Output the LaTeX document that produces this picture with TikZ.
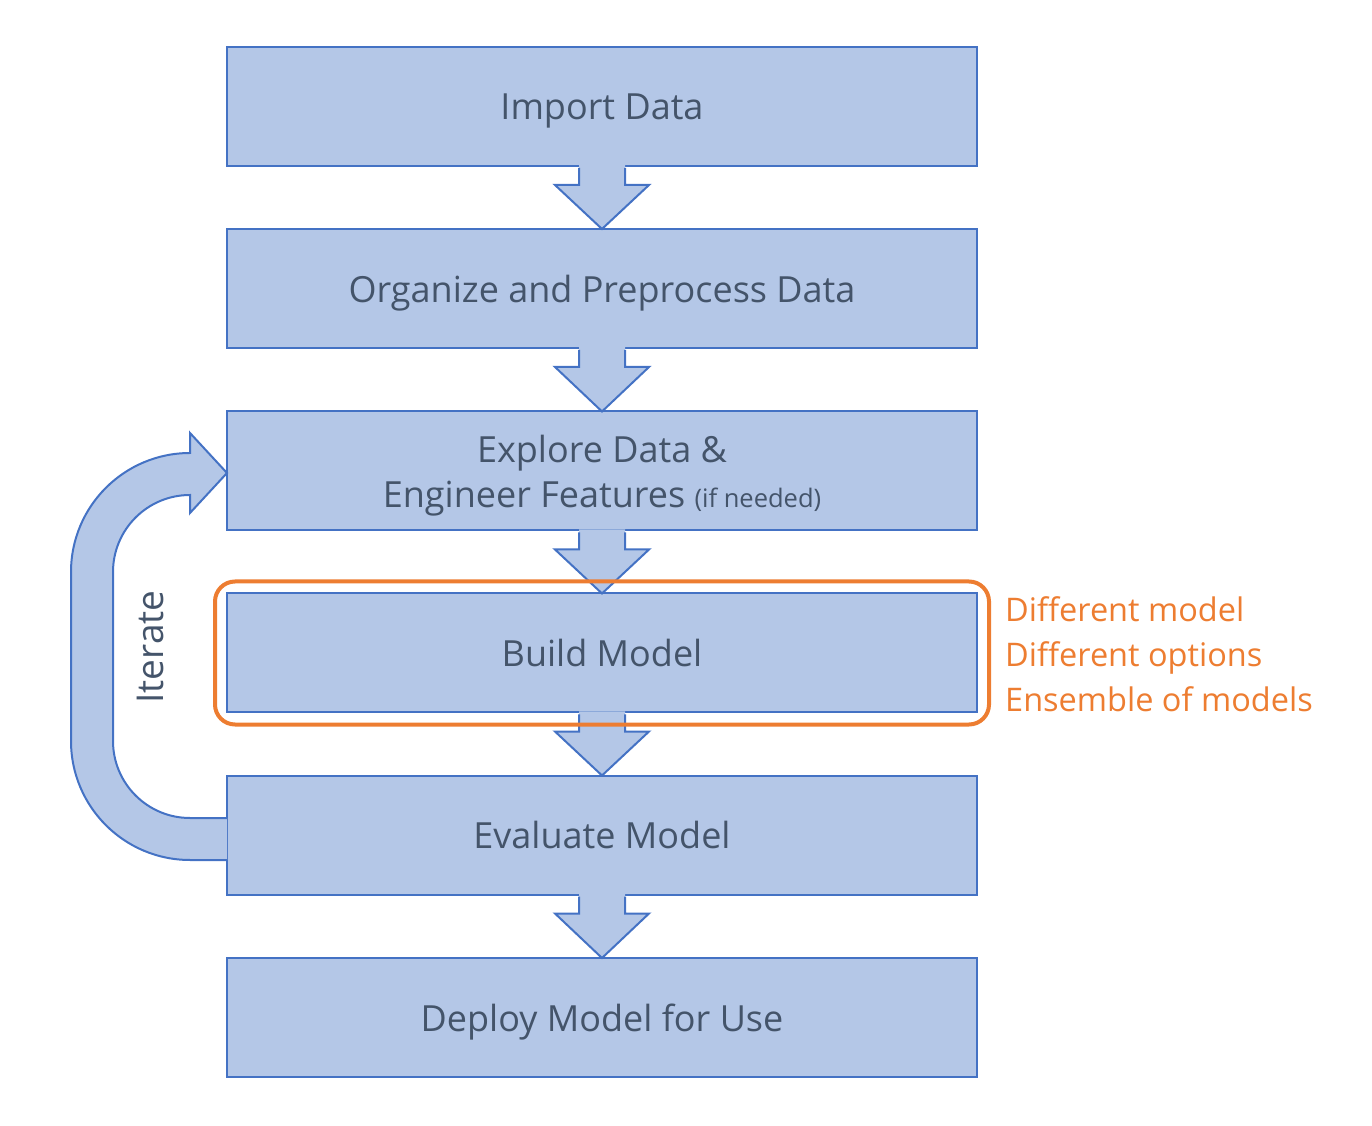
\documentclass[tikz,border=0pt]{standalone}
\usepackage{fontspec}
\setmainfont{Open Sans}
\usetikzlibrary{calc,fit}
\definecolor{boxfill}{HTML}{B4C7E7}
\definecolor{boxline}{HTML}{4472C4}
\definecolor{txt}{HTML}{44546A}
\definecolor{orng}{HTML}{ED7D31}
\tikzset{
  stage/.style={draw=boxline, fill=boxfill, line width=2pt, minimum width=750pt,
    minimum height=119pt, inner sep=0pt, text=txt, text depth=0pt,
    font=\fontsize{36}{45}\selectfont, align=center},
  flow/.style={draw=boxline, fill=boxfill, line width=2pt, line join=miter},
}
\newcommand\flowarrow[2]{%
  \fill[boxfill] ($(#1.south)+(-23,2)$) -- ($(#1.south)+(-23,-18)$) -- ($(#1.south)+(-47,-18)$)
    -- ($(#2.north)+(0,-1)$) -- ($(#1.south)+(47,-18)$) -- ($(#1.south)+(23,-18)$)
    -- ($(#1.south)+(23,2)$) -- cycle;
  \draw[boxline, line width=2pt, line join=miter] ($(#1.south)+(-23,-1)$) -- ($(#1.south)+(-23,-18)$)
    -- ($(#1.south)+(-47,-18)$) -- ($(#2.north)+(0,-1)$) -- ($(#1.south)+(47,-18)$)
    -- ($(#1.south)+(23,-18)$) -- ($(#1.south)+(23,-1)$);
}
\begin{document}
\begin{tikzpicture}[x=1pt,y=1pt]
\useasboundingbox (0,0) rectangle (1372,1125);

\node[stage] (b1) at (602,1018.5) {Import Data};
\node[stage] (b2) at (602,836.5) {Organize and Preprocess Data};
\node[stage] (b3) at (602,654) {Explore Data \&\\Engineer Features {\fontsize{25.5}{30}\selectfont(if needed)}};
\node[stage] (b4) at (602,472) {Build Model};
\node[stage] (b5) at (602,290) {Evaluate Model};
\node[stage] (b6) at (602,107.5) {Deploy Model for Use};

\flowarrow{b1}{b2}
\flowarrow{b2}{b3}
\flowarrow{b3}{b4}
\flowarrow{b4}{b5}
\flowarrow{b5}{b6}

% iterate loop arrow
\coordinate (itS) at ($(b5.west)+(1,-4)$);
\coordinate (itE) at ($(b3.west)+(1,-2)$);
\filldraw[flow] ($(itS)+(0,-21)$) -- ++(-37,0)
  arc[start angle=270,end angle=180,radius=119] -- ++(0,169)
  arc[start angle=180,end angle=90,radius=119] -- ++(0,20)
  -- (itE) -- ($(itE)+(-37,-40)$) -- ++(0,18)
  arc[start angle=90,end angle=180,radius=77] -- ++(0,-169)
  arc[start angle=180,end angle=270,radius=77] -- ($(itS)+(0,21)$);
\node[rotate=90, text=txt, font=\fontsize{37}{40}\selectfont] (it) at (150,478) {Iterate};

% selection frame
\node[draw=orng, line width=4pt, rounded corners=20pt, fit=(b4), inner sep=11pt] (sel) {};
\node[anchor=west, text=orng, font=\fontsize{32.5}{45}\selectfont, align=left, inner sep=0pt]
  (opts) at (1005,471) {Different model\\Different options\\Ensemble of models};
\end{tikzpicture}
\end{document}
